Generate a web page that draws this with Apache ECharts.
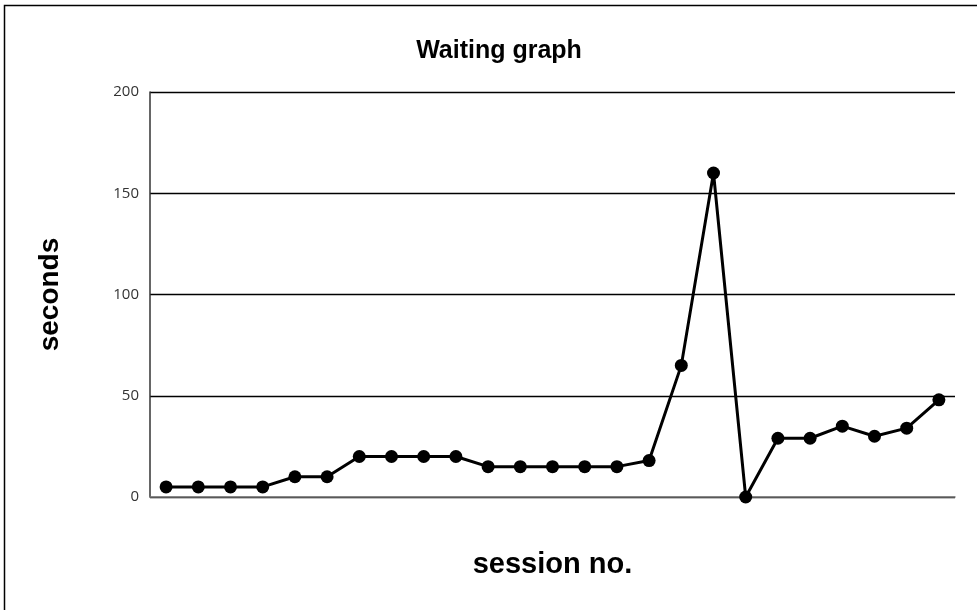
<!DOCTYPE html>
<html>
<head>
<meta charset="utf-8">
<script src="https://cdn.jsdelivr.net/npm/echarts@6/dist/echarts.min.js"></script>
<style>
  html, body { margin: 0; padding: 0; background: #fff; }
  #chart { width: 977px; height: 610px; }
</style>
</head>
<body>
<div id="chart"></div>
<script>
// Session numbers (no tick labels shown on the x axis)
const sessions = Array.from({ length: 25 }, (_, i) => String(i + 1));
// Waiting time per session, in seconds
const waitSeconds = [5, 5, 5, 5, 10, 10, 20, 20, 20, 20, 15, 15, 15, 15, 15, 18, 65, 160, 0, 29, 29, 35, 30, 34, 48];
const yTicks = { min: 0, max: 200, step: 50 };

const chart = echarts.init(document.getElementById('chart'), null, { renderer: 'canvas' });

chart.setOption({
  animation: false,
  backgroundColor: '#ffffff',
  graphic: [
    {
      type: 'rect',
      shape: { x: 4.5, y: 5.5, width: 980, height: 610 },
      style: { fill: 'none', stroke: '#000', lineWidth: 1.5 },
      silent: true
    },
    {
      type: 'text',
      x: 499,
      y: 51,
      style: {
        text: 'Waiting graph',
        font: 'bold 25px "Liberation Sans", Arial, sans-serif',
        fill: '#000',
        textAlign: 'center',
        textVerticalAlign: 'middle'
      }
    }
  ],
  grid: { left: 150, right: 22, top: 92, bottom: 113 },
  xAxis: {
    type: 'category',
    data: sessions,
    boundaryGap: true,
    name: 'session no.',
    nameLocation: 'middle',
    nameGap: 53,
    nameTextStyle: { fontFamily: '"Liberation Sans", Arial, sans-serif', fontWeight: 'bold', fontSize: 29, color: '#000' },
    axisLine: { show: true, lineStyle: { color: '#777', width: 1.5 } },
    axisTick: { show: false },
    axisLabel: { show: false },
    splitLine: { show: false }
  },
  yAxis: {
    type: 'value',
    min: yTicks.min,
    max: yTicks.max,
    interval: yTicks.step,
    name: 'seconds',
    nameLocation: 'middle',
    nameGap: 86,
    nameRotate: 90,
    nameTextStyle: { fontFamily: '"Liberation Sans", Arial, sans-serif', fontWeight: 'bold', fontSize: 28, color: '#000' },
    axisLine: { show: true, lineStyle: { color: '#333', width: 1.5 } },
    axisTick: { show: false },
    axisLabel: { color: '#333', fontSize: 15, margin: 11, fontFamily: '"Open Sans", "DejaVu Sans", sans-serif' },
    splitLine: { show: true, lineStyle: { color: '#000', width: 1.3 } }
  },
  series: [{
    type: 'line',
    data: waitSeconds,
    symbol: 'circle',
    symbolSize: 13,
    lineStyle: { color: '#000', width: 3 },
    itemStyle: { color: '#000' }
  }]
});
</script>
</body>
</html>
